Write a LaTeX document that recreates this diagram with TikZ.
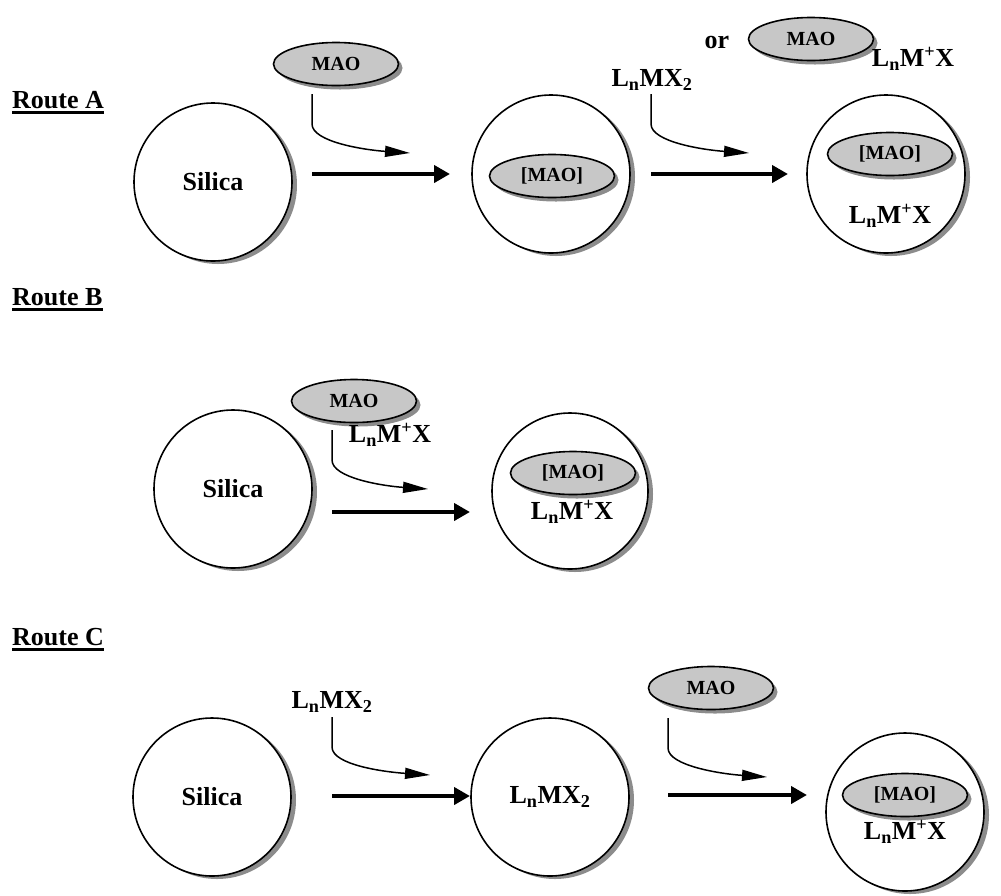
\documentclass[tikz,border=0pt]{standalone}
\usepackage{fontspec}
\setmainfont{Liberation Serif}
\usetikzlibrary{arrows.meta,shapes.geometric,shadows}
\newcommand{\lnmx}{L\textsubscript{n}MX\textsubscript{2}}
\newcommand{\lnmpx}{L\textsubscript{n}M\textsuperscript{+}X}
\tikzset{
  grain/.style={circle, draw, line width=1.6pt, fill=white, minimum size=158pt, inner sep=0pt,
    drop shadow={shadow xshift=5pt, shadow yshift=-3pt, fill=black!60, opacity=0.75},
    font=\fontsize{26}{30}\selectfont\bfseries},
  cocat/.style={ellipse, draw, line width=1.6pt, fill=black!22, minimum width=125pt, minimum height=43pt, inner sep=0pt,
    drop shadow={shadow xshift=4pt, shadow yshift=-4pt, fill=black!60, opacity=0.75},
    font=\fontsize{20}{24}\selectfont\bfseries},
  chem/.style={inner sep=0pt, font=\fontsize{26}{30}\selectfont\bfseries},
  route/.style={chem, anchor=west},
  uline/.style={line width=2.6pt},
  feed/.style={line width=1.5pt, -{Triangle[length=25pt,width=11pt]}},
  rxn/.style={line width=4pt, -{Triangle[length=16pt,width=17pt]}},
}
\begin{document}
\begin{tikzpicture}[x=1pt,y=-1pt]
	\useasboundingbox (0,0) rectangle (1001,895);
	% Route A
	\node[route] (routeA) at (12,100) {Route A};
	\draw[uline] ([yshift=-4pt]routeA.base west) -- ([yshift=-4pt]routeA.base east);
	\node[grain] (silicaA) at (213,182) {Silica};
	\node[cocat] (maoA) at (336,64) {MAO};
	\node[grain] (midA) at (551,174) {};
	\node[cocat] (maoAin) at (552,176) {[MAO]};
	\node[chem] (lnmxA) at (652,80) {\lnmx};
	\node[chem] (orA) at (717,42) {or};
	\node[cocat] (maoAalt) at (811,39) {MAO};
	\node[chem] (ionA) at (913,59) {\lnmpx};
	\node[grain] (endA) at (886,174) {};
	\node[cocat] (maoAend) at (890,154) {[MAO]};
	\node[chem] (ionAend) at (890,216) {\lnmpx};
	\coordinate (a1) at (312,94);
	\coordinate (a1tip) at (410,153);
	\coordinate (a2) at (651,94);
	\coordinate (a2tip) at (749,153);
	\draw[feed] (a1) -- ++(0,30) .. controls +(0,18) and +(-45,-3) .. (a1tip);
	\draw[feed] (a2) -- ++(0,30) .. controls +(0,18) and +(-45,-3) .. (a2tip);
	\coordinate (a3) at (312,174);
	\coordinate (a3tip) at (450,174);
	\coordinate (a4) at (651,174);
	\coordinate (a4tip) at (788,174);
	\draw[rxn] (a3) -- (a3tip);
	\draw[rxn] (a4) -- (a4tip);
	% Route B
	\node[route] (routeB) at (12,297) {Route B};
	\draw[uline] ([yshift=-4pt]routeB.base west) -- ([yshift=-4pt]routeB.base east);
	\node[grain] (silicaB) at (233,489) {Silica};
	\node[cocat] (maoB) at (354,401) {MAO};
	\node[chem] (ionB) at (390,435) {\lnmpx};
	\node[grain, minimum size=156pt] (endB) at (570,491) {};
	\node[cocat] (maoBend) at (573,473) {[MAO]};
	\node[chem] (ionBend) at (572,512) {\lnmpx};
	\coordinate (b1) at (332,430);
	\coordinate (b1tip) at (428,489);
	\draw[feed] (b1) -- ++(0,30) .. controls +(0,18) and +(-45,-3) .. (b1tip);
	\coordinate (b2) at (332,512);
	\coordinate (b2tip) at (470,512);
	\draw[rxn] (b2) -- (b2tip);
	% Route C
	\node[route] (routeC) at (12,637) {Route C};
	\draw[uline] ([yshift=-4pt]routeC.base west) -- ([yshift=-4pt]routeC.base east);
	\node[grain] (silicaC) at (212,797) {Silica};
	\node[chem] (lnmxC) at (332,702) {\lnmx};
	\node[grain] (midC) at (550,797) {\lnmx};
	\node[cocat] (maoC) at (711,688) {MAO};
	\node[grain] (endC) at (905,812) {};
	\node[cocat] (maoCend) at (905,795) {[MAO]};
	\node[chem] (ionCend) at (905,832) {\lnmpx};
	\coordinate (c1) at (332,717);
	\coordinate (c1tip) at (430,775);
	\coordinate (c2) at (668,718);
	\coordinate (c2tip) at (767,777);
	\draw[feed] (c1) -- ++(0,30) .. controls +(0,18) and +(-45,-3) .. (c1tip);
	\draw[feed] (c2) -- ++(0,30) .. controls +(0,18) and +(-45,-3) .. (c2tip);
	\coordinate (c3) at (332,796);
	\coordinate (c3tip) at (470,796);
	\coordinate (c4) at (668,795);
	\coordinate (c4tip) at (807,795);
	\draw[rxn] (c3) -- (c3tip);
	\draw[rxn] (c4) -- (c4tip);
\end{tikzpicture}
\end{document}
